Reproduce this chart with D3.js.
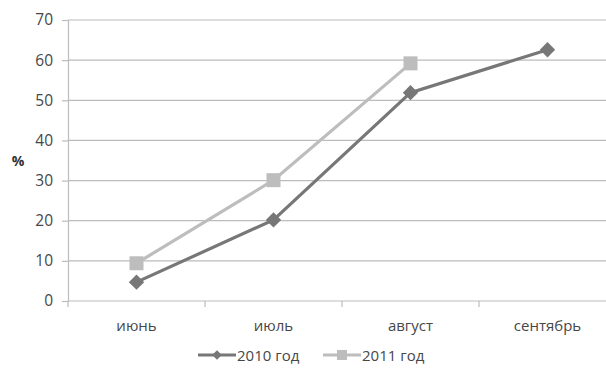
<!DOCTYPE html>
<html>
<head>
<meta charset="utf-8">
<script src="https://cdn.jsdelivr.net/npm/d3@7"></script>
<style>
  html, body { margin: 0; padding: 0; background: #fff; }
  svg { display: block; font-family: "Open Sans", "Liberation Sans", sans-serif; }
</style>
</head>
<body>
<svg id="chart" width="606" height="371"></svg>
<script>
// Monthly share, percent
const months = ["июнь", "июль", "август", "сентябрь"];
const series2010 = [4.7, 20.2, 51.9, 62.6];
const series2011 = [9.4, 30.1, 59.2];
const yTicks = [0, 10, 20, 30, 40, 50, 60, 70];
const seriesNames = ["2010 год", "2011 год"];

(function () {
const svg = d3.select("#chart");
const plotLeft = 68, plotRight = 616, plotTop = 20, plotBottom = 301;
const fontFamily = "'Open Sans', 'Liberation Sans', sans-serif";

const x = d3.scaleBand().domain(months).range([plotLeft, plotRight]).padding(0);
const y = d3.scaleLinear().domain([0, 70]).range([plotBottom, plotTop]);

const gridColor = "#bcbcbc";
const textColor = "#474747";

// horizontal gridlines
svg.append("g")
  .selectAll("line")
  .data(yTicks.filter(d => d > 0))
  .join("line")
  .attr("x1", plotLeft).attr("x2", plotRight)
  .attr("y1", d => y(d)).attr("y2", d => y(d))
  .attr("stroke", gridColor).attr("stroke-width", 1.2);

// y axis
const yAxis = svg.append("g")
  .attr("transform", `translate(${plotLeft},0)`)
  .call(d3.axisLeft(y).tickValues(yTicks).tickSize(6).tickPadding(9));
yAxis.select(".domain").attr("stroke", gridColor).attr("stroke-width", 1.2);
yAxis.selectAll(".tick line").attr("stroke", gridColor).attr("stroke-width", 1.2);
yAxis.selectAll(".tick text").attr("fill", textColor).attr("font-size", 15.5)
  .attr("font-family", fontFamily);

// x axis with ticks on category boundaries
const xAxis = svg.append("g").attr("transform", `translate(0,${plotBottom})`);
xAxis.append("line").attr("x1", plotLeft).attr("x2", plotRight)
  .attr("stroke", gridColor).attr("stroke-width", 1.2);
xAxis.selectAll("line.tk")
  .data(months)
  .join("line").attr("class", "tk")
  .attr("x1", d => x(d)).attr("x2", d => x(d))
  .attr("y1", 0).attr("y2", 6)
  .attr("stroke", gridColor).attr("stroke-width", 1.2);
xAxis.selectAll("text")
  .data(months)
  .join("text")
  .attr("x", d => x(d) + x.bandwidth() / 2)
  .attr("y", 30)
  .attr("text-anchor", "middle")
  .attr("fill", textColor)
  .attr("font-size", 15)
  .text(d => d);

// axis title
svg.append("text")
  .attr("x", 18).attr("y", 166)
  .attr("text-anchor", "middle")
  .attr("font-weight", "bold")
  .attr("font-size", 14)
  .attr("fill", "#333333")
  .text("%");

const cx = i => x(months[i]) + x.bandwidth() / 2;
const line = d3.line().x((d, i) => cx(i)).y(d => y(d));

const c2010 = "#777777", c2011 = "#bdbdbd";

// 2011 series
svg.append("path").datum(series2011)
  .attr("d", line).attr("fill", "none")
  .attr("stroke", c2011).attr("stroke-width", 3.2);
svg.append("g").selectAll("rect").data(series2011).join("rect")
  .attr("x", (d, i) => cx(i) - 7).attr("y", d => y(d) - 7)
  .attr("width", 14).attr("height", 14)
  .attr("fill", c2011);

// 2010 series
svg.append("path").datum(series2010)
  .attr("d", line).attr("fill", "none")
  .attr("stroke", c2010).attr("stroke-width", 3.2);
const diamond = d3.symbol().type(d3.symbolDiamond2).size(150);
svg.append("g").selectAll("path").data(series2010).join("path")
  .attr("d", diamond)
  .attr("transform", (d, i) => `translate(${cx(i)},${y(d)})`)
  .attr("fill", c2010);

// legend
const lg = svg.append("g").attr("transform", "translate(0,355)");
const items = [
  { name: seriesNames[0], color: c2010, x0: 198, marker: "diamond" },
  { name: seriesNames[1], color: c2011, x0: 323, marker: "square" }
];
items.forEach(it => {
  lg.append("line").attr("x1", it.x0).attr("x2", it.x0 + 38)
    .attr("y1", 0).attr("y2", 0)
    .attr("stroke", it.color).attr("stroke-width", 3.2);
  if (it.marker === "diamond") {
    lg.append("path").attr("d", d3.symbol().type(d3.symbolDiamond2).size(60))
      .attr("transform", `translate(${it.x0 + 19},0)`).attr("fill", it.color);
  } else {
    lg.append("rect").attr("x", it.x0 + 14).attr("y", -5)
      .attr("width", 10).attr("height", 10).attr("fill", it.color);
  }
  lg.append("text").attr("x", it.x0 + 39).attr("y", 5.5)
    .attr("fill", textColor).attr("font-size", 15).text(it.name);
});
})();
</script>
</body>
</html>
